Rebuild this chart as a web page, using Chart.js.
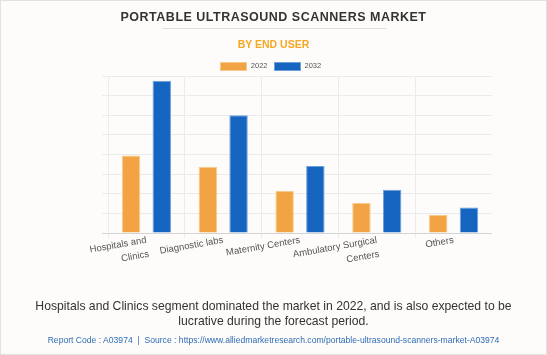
<!DOCTYPE html>
<html>
<head>
<meta charset="utf-8">
<script src="https://cdn.jsdelivr.net/npm/chart.js@4.4.1/dist/chart.umd.min.js"></script>
<style>
  html, body { margin: 0; padding: 0; }
  body { width: 547px; height: 355px; overflow: hidden; background: #fdfcfa; font-family: "Liberation Sans", Arial, sans-serif; position: relative; }
  #frame { position: absolute; left: 0; top: 0; width: 545px; height: 353px; border: 1px solid #e2e2e2; }
  #title { position: absolute; left: 0; width: 547px; top: 9px; text-align: center; font-weight: bold; font-size: 12.5px; letter-spacing: 0.5px; color: #333; line-height: 17px; }
  #rule { position: absolute; left: 162px; top: 28px; width: 224px; height: 1px; background: #dedede; }
  #subtitle { position: absolute; left: 0; width: 547px; top: 37px; text-align: center; font-weight: bold; font-size: 10.5px; color: #f6a724; line-height: 14px; }
  #legend { position: absolute; left: -3px; width: 547px; top: 61px; display: flex; justify-content: center; font-size: 7.5px; color: #555; line-height: 10px; }
  .item { display: flex; align-items: center; margin: 0 3px; }
  .box { width: 27px; height: 9px; margin-right: 4px; box-sizing: border-box; }
  #chartwrap { position: absolute; left: 0; top: 0; width: 547px; height: 355px; }
  #note { position: absolute; left: 0; width: 547px; top: 299px; text-align: center; font-size: 12.2px; color: #333; line-height: 14.5px; }
  #src { position: absolute; left: 0; width: 547px; top: 334px; text-align: center; font-size: 8.6px; color: #2f6db5; line-height: 12px; }
</style>
</head>
<body>
<div id="frame"></div>
<div id="chartwrap"><canvas id="c" width="547" height="355"></canvas></div>
<div id="title">PORTABLE ULTRASOUND SCANNERS MARKET</div>
<div id="rule"></div>
<div id="subtitle">BY END USER</div>
<div id="legend"></div>
<div id="note">Hospitals and Clinics segment dominated the market in 2022, and is also expected to be<br>lucrative during the forecast period.</div>
<div id="src">Report Code : A03974 &nbsp;|&nbsp; Source : https://www.alliedmarketresearch.com/portable-ultrasound-scanners-market-A03974</div>
<script>
const categories = [["Hospitals and", "Clinics"], "Diagnostic labs", "Maternity Centers", ["Ambulatory Surgical", "Centers"], "Others"];
const seriesNames = ["2022", "2032"];
const values2022 = [3.95, 3.37, 2.14, 1.53, 0.93];
const values2032 = [7.76, 6.0, 3.42, 2.2, 1.3];
const fillColors = ["#f2a444", "#1565c0"];
const edgeColors = ["#f8c98e", "#6d9fdc"];

const legend = document.getElementById('legend');
seriesNames.forEach((n, i) => {
  const it = document.createElement('div');
  it.className = 'item';
  const b = document.createElement('span');
  b.className = 'box';
  b.style.background = fillColors[i];
  b.style.border = '1px solid ' + edgeColors[i];
  const t = document.createElement('span');
  t.textContent = n;
  it.appendChild(b); it.appendChild(t);
  legend.appendChild(it);
});

new Chart(document.getElementById('c'), {
  type: 'bar',
  data: {
    labels: categories,
    datasets: [
      { label: seriesNames[0], data: values2022, backgroundColor: fillColors[0], borderColor: edgeColors[0], borderWidth: 1, categoryPercentage: 0.8, barPercentage: 0.6 },
      { label: seriesNames[1], data: values2032, backgroundColor: fillColors[1], borderColor: edgeColors[1], borderWidth: 1, categoryPercentage: 0.8, barPercentage: 0.6 }
    ]
  },
  options: {
    responsive: false,
    animation: false,
    devicePixelRatio: 1,
    layout: { padding: { left: 102, right: 55, top: 76, bottom: 82 } },
    plugins: { legend: { display: false }, tooltip: { enabled: false }, title: { display: false } },
    scales: {
      x: {
        afterFit: (s) => { s.height = 40; },
        grid: {
          offset: true,
          tickLength: 5,
          color: (ctx) => ctx.type === 'tick' ? '#ebebeb' : 'rgba(0,0,0,0)',
          lineWidth: 1
        },
        border: { display: false },
        ticks: {
          autoSkip: false,
          minRotation: 10,
          maxRotation: 10,
          padding: -5,
          color: '#555',
          font: { family: '"Liberation Sans", Arial, sans-serif', size: 9.5, lineHeight: 1.5 }
        }
      },
      y: {
        min: 0,
        max: 8,
        afterFit: (s) => { s.width = 6; },
        ticks: { display: false, stepSize: 1 },
        grid: {
          tickLength: 6,
          color: (ctx) => (ctx.tick && ctx.tick.value === 0) ? '#d4d4d4' : '#ebebeb'
        },
        border: { display: false }
      }
    }
  }
});
</script>
</body>
</html>
